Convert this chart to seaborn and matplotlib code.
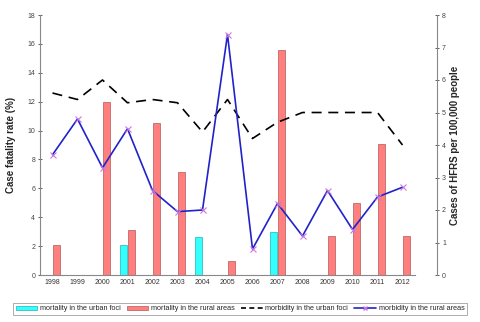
import matplotlib
matplotlib.use("Agg")
import matplotlib.pyplot as plt
import seaborn as sns
import numpy as np
import pandas as pd
from matplotlib.patches import Patch
from matplotlib.lines import Line2D

sns.set_style("white")
plt.rcParams['font.family'] = ['Liberation Sans', 'DejaVu Sans']

years = list(range(1998, 2013))
mortality_urban = [None, None, None, 2.1, None, None, 2.6, None, None, 3.0, None, None, None, None, None]
mortality_rural = [2.1, None, 12.0, 3.1, 10.5, 7.1, None, 1.0, None, 15.6, None, 2.7, 5.0, 9.1, 2.7]
morbidity_urban = [5.6, 5.4, 6.0, 5.3, 5.4, 5.3, 4.4, 5.4, 4.2, 4.7, 5.0, 5.0, 5.0, 5.0, 4.0]
morbidity_rural = [3.7, 4.8, 3.3, 4.5, 2.6, 1.95, 2.0, 7.4, 0.8, 2.2, 1.2, 2.6, 1.4, 2.4, 2.7]

lab_u = "mortality in the urban foci"
lab_r = "mortality in the rural areas"
lab_mu = "morbidity in the urban foci"
lab_mr = "morbidity in the rural areas"

bars = pd.DataFrame({
    "year": years * 2,
    "rate": mortality_urban + mortality_rural,
    "type": [lab_u] * len(years) + [lab_r] * len(years),
}).dropna()
lines = pd.DataFrame({"year": years, "urban": morbidity_urban, "rural": morbidity_rural})

c_cyan = "#33FFFF"
c_red = "#FF7F7F"
c_blue = "#2222CC"

fig = plt.figure(figsize=(4.8, 3.22), dpi=100)
ax = fig.add_axes([40/480, 47/322, 375/480, 260/322])
sns.barplot(data=bars, x="year", y="rate", hue="type", hue_order=[lab_u, lab_r],
            palette=[c_cyan, c_red], native_scale=True, width=0.6, dodge=True,
            legend=False, ax=ax, edgecolor="#B05858", linewidth=0.5, saturation=1)
for p in ax.patches:
    if p.get_facecolor()[1] > 0.9:
        p.set_edgecolor("#20B0B0")

ax2 = ax.twinx()
sns.lineplot(data=lines, x="year", y="urban", ax=ax2, color="black", linewidth=1.2,
             linestyle=(0, (6, 4)))
sns.lineplot(data=lines, x="year", y="rural", ax=ax2, color=c_blue, linewidth=1.2,
             marker="x", markersize=4, markeredgecolor="#CC77DD", markeredgewidth=0.8)

ax.set_xlim(1997.5, 2012.5)
ax.set_ylim(0, 18)
ax2.set_ylim(0, 8)
ax.set_yticks(np.arange(0, 19, 2))
ax2.set_yticks(np.arange(0, 9, 1))
ax.set_xticks(years)
ax.set_xticklabels([str(y) for y in years])
ax.set_xticks(np.arange(1997.5, 2013, 1), minor=True)

for a in (ax, ax2):
    for s in a.spines.values():
        s.set_visible(False)
ax.spines['left'].set_visible(True)
ax.spines['bottom'].set_visible(True)
ax2.spines['right'].set_visible(True)
ax2.spines['right'].set_position(('outward', 16))
for s in (ax.spines['left'], ax.spines['bottom'], ax2.spines['right']):
    s.set_color("#888888")
    s.set_linewidth(0.8)

ax.tick_params(axis='y', labelsize=5, colors="#444444", length=3, direction='inout', width=0.6, pad=2)
ax2.tick_params(axis='y', labelsize=5, colors="#444444", length=3, direction='inout', width=0.6, pad=2)
ax.tick_params(axis='x', which='major', length=0, labelsize=5, colors="#333333", pad=3)
ax.tick_params(axis='x', which='minor', length=3, width=0.6, color="#888888", direction='out')

ax.set_xlabel("")
ax.set_ylabel("Case fatality rate (%)", fontsize=7, fontweight="bold", labelpad=8)
ax2.set_ylabel("Cases of HFRS per 100,000 people", fontsize=7, fontweight="bold", labelpad=3)

handles = [
    Patch(facecolor=c_cyan, edgecolor="#20B0B0", linewidth=0.5),
    Patch(facecolor=c_red, edgecolor="#B05858", linewidth=0.5),
    Line2D([], [], color="black", linewidth=1.2, linestyle=(0, (3, 2))),
    Line2D([], [], color=c_blue, linewidth=1.2, marker="x", markersize=3,
           markeredgecolor="#CC77DD"),
]
leg = fig.legend(handles, [lab_u, lab_r, lab_mu, lab_mr], loc="center",
                 bbox_to_anchor=(240/480, 1 - 309/322), ncol=4, fontsize=5.2,
                 frameon=True, fancybox=False, edgecolor="#888888", handlelength=3.0,
                 handleheight=0.5, columnspacing=0.8, handletextpad=0.4,
                 borderpad=0.35)
leg.get_frame().set_linewidth(0.6)

fig.savefig("out.png", dpi=100)
